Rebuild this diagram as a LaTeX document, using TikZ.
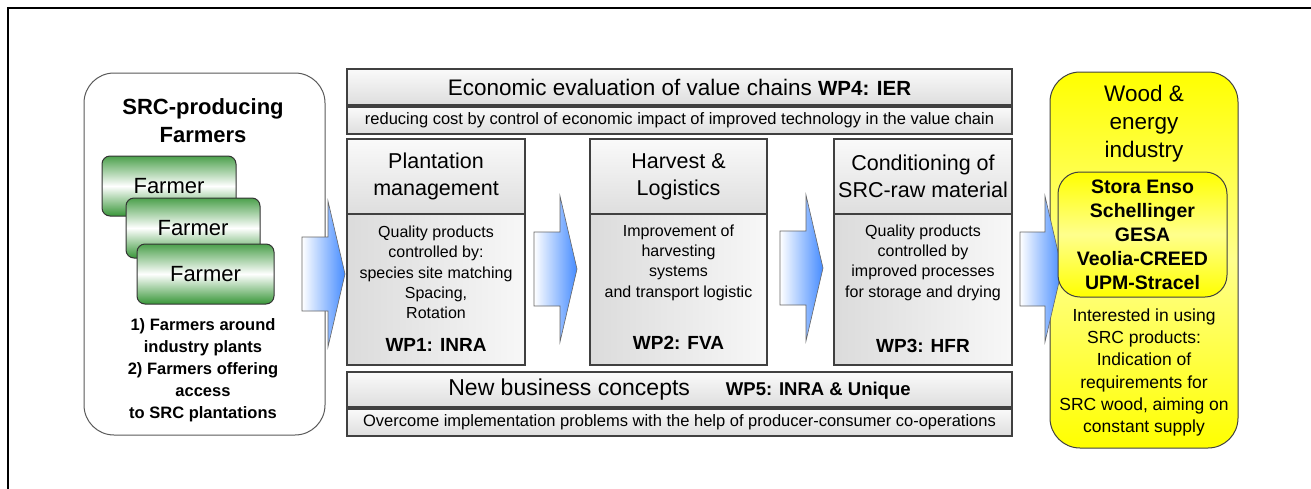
\documentclass[tikz,border=0pt]{standalone}
\usepackage{fontspec}
\setmainfont{Liberation Sans}
\definecolor{farmgreen}{RGB}{56,150,56}
\definecolor{arrowblue}{RGB}{70,140,255}
\definecolor{boxline}{RGB}{64,64,64}
\newcommand\setfs[2]{\fontsize{#1}{#2}\selectfont}
\begin{document}
\begin{tikzpicture}[x=1pt,y=-1pt,
    greybox/.style={draw=boxline,line width=1.2pt,top color=black!2,bottom color=black!13,inner sep=0pt},
    greybody/.style={draw=boxline,line width=1.2pt,left color=black!14,right color=black!3,inner sep=0pt},
    farmer/.style={draw=black!80,line width=1pt,rounded corners=8pt,top color=farmgreen!90,bottom color=farmgreen,middle color=white,minimum width=134pt,minimum height=60pt,font=\setfs{22}{26}},
    yellowbox/.style={draw=black!75,line width=1pt,top color=yellow,bottom color=yellow,middle color=yellow!45},
    flow/.style={draw=black!60,line width=0.6pt,left color=white,right color=arrowblue},
    txt/.style={align=center,inner sep=0pt}]
    \useasboundingbox (0,0) rectangle (1311,488);
    \draw[line width=2pt] (8,492) -- (8,8) -- (1315,8);
    % producers
    \node[draw=black!65,line width=1pt,rounded corners=30pt,fill=white,minimum width=241pt,minimum height=362pt] (farmbox) at (204.5,254) {};
    \node[txt,font=\bfseries\setfs{22}{28}] (farmtitle) at (203,121) {SRC-producing\\Farmers};
    \node[farmer] (farmer1) at (169,186) {Farmer};
    \node[farmer] (farmer2) at (193,228) {Farmer};
    \node[farmer,minimum width=137pt] (farmer3) at (205.5,274) {Farmer};
    \node[txt,font=\bfseries\setfs{16.5}{22}] (farmnote) at (203,370) {1) Farmers around\\industry plants\\2) Farmers offering\\access\\to SRC plantations};
    % flow arrows
    \foreach \ax/\ay in {302/274,534/269,780/268}
        \draw[flow] (\ax,\ay) ++(0,-37) -- ++(26,0) -- ++(0,-36) -- ++(17,73) -- ++(-17,73) -- ++(0,-36) -- ++(-26,0) -- cycle;
    % value chain
    \node[greybox,minimum width=665pt,minimum height=36pt,font=\setfs{22.5}{26}] (econ) at (679.5,87) {Economic evaluation of value chains {\bfseries\setfs{20.5}{24}WP4: IER}};
    \node[greybox,minimum width=665pt,minimum height=27pt,font=\setfs{16.5}{20}] (econnote) at (679.5,120.5) {reducing cost by control of economic impact of improved technology in the value chain};
    \node[greybox,minimum width=178pt,minimum height=75pt,align=center,font=\setfs{21.5}{27}] (plant) at (436,176.5) {Plantation\\management};
    \node[greybox,minimum width=177pt,minimum height=75pt,align=center,font=\setfs{21.5}{27}] (harvest) at (678.5,176.5) {Harvest \&\\Logistics};
    \node[greybox,minimum width=178pt,minimum height=75pt,align=center,font=\setfs{21.5}{27}] (cond) at (923,176.5) {Conditioning of\\SRC-raw material};
    \node[greybody,minimum width=178pt,minimum height=151pt] (plantbody) at (436,289.5) {};
    \node[greybody,minimum width=177pt,minimum height=151pt] (harvestbody) at (678.5,289.5) {};
    \node[greybody,minimum width=178pt,minimum height=151pt] (condbody) at (923,289.5) {};
    \node[txt,font=\setfs{16}{20.3}] (planttext) at (436,272.5) {Quality products\\controlled by:\\species site matching\\Spacing,\\Rotation};
    \node[txt,font=\setfs{16}{20.3}] (harvesttext) at (678.5,262.5) {Improvement of\\harvesting\\systems\\and transport logistic};
    \node[txt,font=\setfs{16}{20.3}] (condtext) at (923,262.5) {Quality products\\controlled by\\improved processes\\for storage and drying};
    \node[txt,font=\bfseries\setfs{19}{22}] (wp1) at (436,345) {WP1: INRA};
    \node[txt,font=\bfseries\setfs{19}{22}] (wp2) at (678.5,343) {WP2: FVA};
    \node[txt,font=\bfseries\setfs{19}{22}] (wp3) at (923,346) {WP3: HFR};
    \node[greybox,minimum width=665pt,minimum height=35pt] (biz) at (679.5,389.5) {{\setfs{23}{26}New business concepts}\hspace{36pt}{\bfseries\setfs{18.5}{22}WP5: INRA \& Unique}};
    \node[greybox,minimum width=665pt,minimum height=27pt,font=\setfs{16.5}{20}] (biznote) at (679.5,422.5) {Overcome implementation problems with the help of producer-consumer co-operations};
    % industry
    \node[yellowbox,rounded corners=30pt,minimum width=188pt,minimum height=376pt] (industry) at (1144,260) {};
    \draw[flow] (1020,269) ++(0,-37) -- ++(25,0) -- ++(0,-36) -- ++(17,73) -- ++(-17,73) -- ++(0,-36) -- ++(-25,0) -- cycle;
    \node[yellowbox,rounded corners=22pt,minimum width=169pt,minimum height=125pt] (firms) at (1142.5,234.5) {};
    \node[txt,font=\setfs{22.5}{28}] (industrytitle) at (1144,124) {Wood \&\\energy\\industry};
    \node[txt,font=\bfseries\setfs{19.5}{24}] (firmnames) at (1142.5,235) {Stora Enso\\Schellinger\\GESA\\Veolia-CREED\\UPM-Stracel};
    \node[txt,font=\setfs{17.5}{22.2}] (industrynote) at (1144,372.5) {Interested in using\\SRC products:\\Indication of\\requirements for\\SRC wood, aiming on\\constant supply};
\end{tikzpicture}
\end{document}
